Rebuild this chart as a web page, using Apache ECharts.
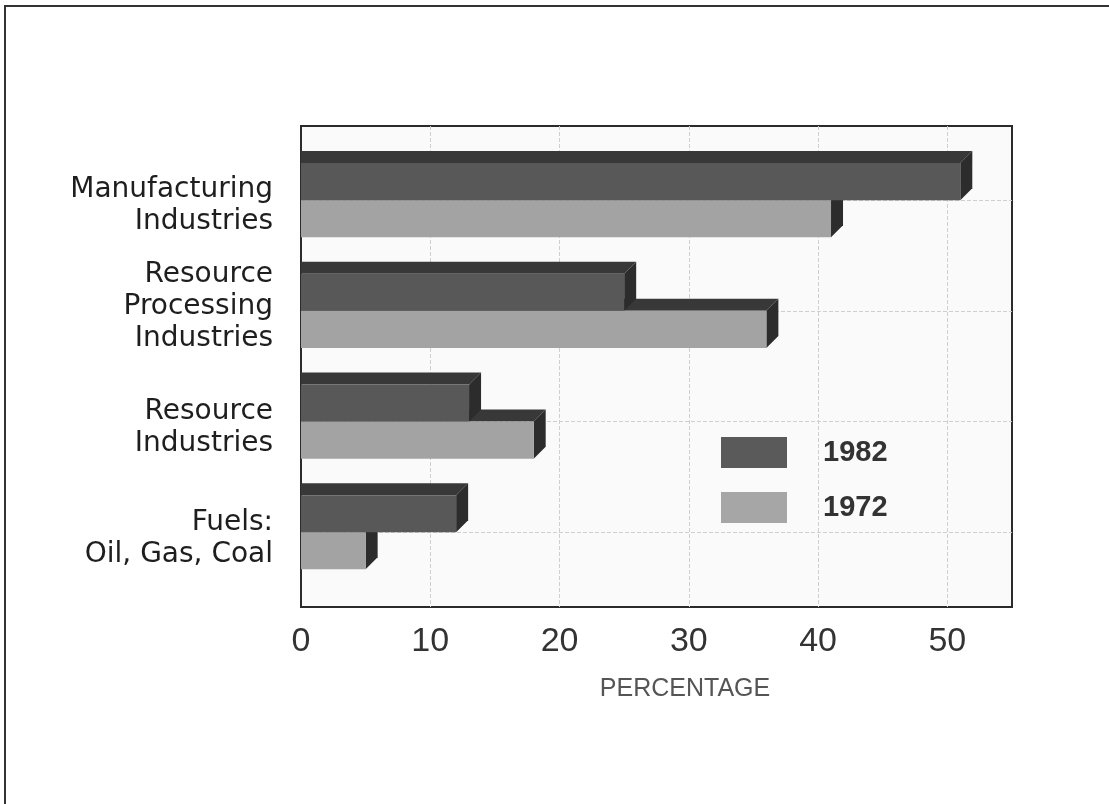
<!DOCTYPE html>
<html>
<head>
<meta charset="utf-8">
<title>Industries 1972 / 1982</title>
<script src="https://cdn.jsdelivr.net/npm/echarts@6/dist/echarts.min.js"></script>
<style>
  html, body { margin: 0; padding: 0; background: #fff; }
  #chart { width: 1109px; height: 804px; }
</style>
</head>
<body>
<div id="chart"></div>
<script>
// data
const categories = [
  'Manufacturing\nIndustries',
  'Resource\nProcessing\nIndustries',
  'Resource\nIndustries',
  'Fuels:\nOil, Gas, Coal'
]
const values1982 = [51, 25, 13, 12]
const values1972 = [41, 36, 18, 5]
const xTicks = [0, 10, 20, 30, 40, 50]

const DEPTH = 12 // 3d offset in px

// draws one 3d bar: front face, top face and right side
function barRenderer(up, front, top, side) {
  return function (params, api) {
    const v = api.value(0)
    const i = api.value(1)
    const p0 = api.coord([0, i])
    const p1 = api.coord([v, i])
    const band = api.size([0, 1])[1]
    const h = band * 0.335
    const x0 = p0[0]
    const x1 = p1[0]
    const y = up ? p0[1] - h : p0[1]
    return {
      type: 'group',
      children: [
        {
          type: 'polygon',
          shape: { points: [[x0, y], [x1, y], [x1 + DEPTH, y - DEPTH], [x0, y - DEPTH]] },
          style: { fill: top }
        },
        {
          type: 'polygon',
          shape: { points: [[x1, y], [x1 + DEPTH, y - DEPTH], [x1 + DEPTH, y + h - DEPTH], [x1, y + h]] },
          style: { fill: side }
        },
        {
          type: 'rect',
          shape: { x: x0, y: y, width: x1 - x0, height: h },
          style: { fill: front }
        }
      ]
    }
  }
}

// category label: two-line labels sit a bit low, the three-line one a bit high
function catLabel(text) {
  const lines = text.split('\n')
  const key = lines.length === 3 ? 'b' : 't'
  return lines.map(l => '{' + key + '|' + l + '}').join('\n')
}

const labelFont = { fontSize: 28, lineHeight: 32, color: '#1e1e1e', fontFamily: 'DejaVu Sans' }

const chart = echarts.init(document.getElementById('chart'))

const option = {
  backgroundColor: '#fff',
  animation: false,
  graphic: [
    { type: 'line', shape: { x1: 4, y1: 6, x2: 1109, y2: 6 }, style: { stroke: '#333', lineWidth: 2 } },
    { type: 'line', shape: { x1: 5, y1: 6, x2: 5, y2: 804 }, style: { stroke: '#333', lineWidth: 2 } }
  ],
  grid: {
    left: 301,
    top: 126,
    right: 97,
    bottom: 197,
    show: true,
    borderColor: '#2b2b2b',
    borderWidth: 2,
    backgroundColor: '#fafafa'
  },
  legend: {
    orient: 'vertical',
    left: 721,
    top: 437,
    padding: 0,
    itemWidth: 66,
    itemHeight: 31,
    itemGap: 24,
    data: [{ name: '1982', icon: 'rect' }, { name: '1972', icon: 'rect' }],
    formatter: name => '{t|' + name + '}',
    textStyle: {
      rich: {
        t: {
          padding: [0, 0, 0, 31],
          fontSize: 29,
          fontWeight: 'bold',
          color: '#333',
          fontFamily: 'Liberation Sans'
        }
      }
    }
  },
  xAxis: {
    type: 'value',
    min: 0,
    max: 55,
    interval: 10,
    axisLine: { show: false },
    axisTick: { show: false },
    axisLabel: {
      fontSize: 34,
      color: '#333',
      fontFamily: 'Liberation Sans',
      margin: 18,
      showMaxLabel: false,
      formatter: v => (xTicks.indexOf(v) >= 0 ? String(v) : '')
    },
    splitLine: {
      showMinLine: false,
      showMaxLine: false,
      lineStyle: { color: '#cfcfcf', type: 'dashed', width: 1 }
    },
    name: 'PERCENTAGE',
    nameLocation: 'middle',
    nameGap: 70,
    nameTextStyle: {
      fontSize: 25,
      color: '#555',
      fontFamily: 'Liberation Sans',
      padding: [0, 0, 0, 57]
    }
  },
  yAxis: {
    type: 'value',
    inverse: true,
    min: -0.67,
    max: 3.675,
    axisLine: { show: false },
    axisTick: { show: false },
    axisLabel: Object.assign({}, labelFont, {
      showMinLabel: false,
      showMaxLabel: false,
      margin: 28,
      formatter: v => {
        const r = Math.round(v)
        return Math.abs(v - r) < 1e-6 && categories[r] ? catLabel(categories[r]) : ''
      },
      rich: {
        t: Object.assign({}, labelFont, { padding: [12, 0, 0, 0] }),
        b: Object.assign({}, labelFont, { padding: [0, 0, 8, 0] })
      }
    }),
    splitLine: {
      showMinLine: false,
      showMaxLine: false,
      lineStyle: { color: '#cfcfcf', type: 'dashed', width: 1 }
    }
  },
  series: [
    {
      name: '1982',
      type: 'custom',
      z: 3,
      itemStyle: { color: '#5a5a5a' },
      encode: { x: 0, y: 1 },
      data: values1982.map((v, i) => [v, i]),
      renderItem: barRenderer(true, '#585858', '#383838', '#2c2c2c')
    },
    {
      name: '1972',
      type: 'custom',
      z: 2,
      itemStyle: { color: '#a6a6a6' },
      encode: { x: 0, y: 1 },
      data: values1972.map((v, i) => [v, i]),
      renderItem: barRenderer(false, '#a3a3a3', '#383838', '#2c2c2c')
    }
  ]
}

chart.setOption(option)
</script>
</body>
</html>
